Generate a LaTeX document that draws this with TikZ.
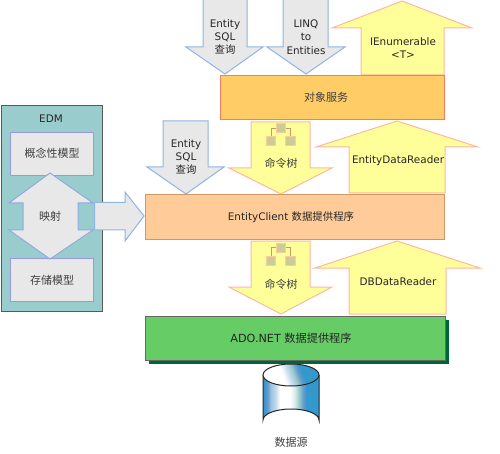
\documentclass[tikz,border=0pt]{standalone}
\usepackage{fontspec}
\setmainfont{DejaVu Sans}
\newfontfamily\cjk{Noto Sans CJK SC}
\definecolor{cylA}{HTML}{3399CC}
\definecolor{cylB}{HTML}{4A9FD0}
\definecolor{cylC}{HTML}{9CC4E4}
\definecolor{cylD}{HTML}{C8DCEE}
\definecolor{cylE}{HTML}{D8E8E8}
\definecolor{cylF}{HTML}{99CCCC}
\definecolor{cylG}{HTML}{6699CC}
\pgfdeclarehorizontalshading{cylbody}{100bp}{
 color(0bp)=(cylA); color(26bp)=(cylA); color(29bp)=(cylG); color(32bp)=(cylC); color(36.6bp)=(cylD); color(40.2bp)=(white); color(49bp)=(white);
 color(53.6bp)=(cylE); color(57bp)=(cylF); color(61bp)=(cylG); color(64bp)=(cylA); color(100bp)=(cylA)}
\pgfdeclarehorizontalshading{cyltop}{100bp}{
 color(0bp)=(white); color(42bp)=(white); color(48bp)=(cylD); color(53bp)=(cylF); color(58bp)=(cylG); color(62bp)=(cylA); color(100bp)=(cylA)}
\definecolor{yel}{HTML}{FFFF99}
\definecolor{yelb}{HTML}{FFB8A0}
\definecolor{gry}{HTML}{E8E8E8}
\definecolor{gryb}{HTML}{8FB4E6}
\definecolor{edmb}{HTML}{9999DD}
\definecolor{tanf}{HTML}{CCCC99}
\definecolor{tanl}{HTML}{CC9966}
\definecolor{teal1}{HTML}{99CCCC}
\definecolor{orng}{HTML}{FFCC66}
\definecolor{orngb}{HTML}{F08060}
\definecolor{peach}{HTML}{FFCC99}
\definecolor{peachb}{HTML}{CC9966}
\definecolor{grn}{HTML}{66CC66}
\definecolor{dgrn}{HTML}{006633}
\tikzset{
 x=1pt,y=-1pt,
 yarrow/.style={fill=yel,draw=yelb,line width=1pt,line join=miter},
 garrow/.style={fill=gry,draw=gryb,line width=1pt,line join=miter},
 gbox/.style={fill=gry,draw=edmb,line width=1pt},
 lab/.style={inner sep=0pt,font=\fontsize{10.4}{13.3}\selectfont,align=center,text=black!85},
 clab/.style={inner sep=0pt,font=\cjk\fontsize{11}{13.3}\selectfont,align=center,text=black!75},
 layer/.style={line width=1pt},
 treeicon/.pic={
  \draw[draw=tanl,line width=1pt] (-9.5,13) -- (-9.5,4.5) -- (9.5,4.5) -- (9.5,13);
  \draw[fill=tanf,draw=peach,line width=1pt] (-4.5,0) rectangle (4.5,9);
  \draw[fill=tanf,draw=peach,line width=1pt] (-14.5,13) rectangle (-5,22);
  \draw[fill=tanf,draw=peach,line width=1pt] (5,13) rectangle (14.5,22);
 }
}
\begin{document}
\begin{tikzpicture}
\useasboundingbox (0,0) rectangle (500,454);
\fill[white] (0,0) rectangle (500,454);
% EDM
\draw[fill=teal1,draw=black!65,line width=1pt] (1,106) rectangle (102,311);
\node[lab] (edm) at (51,119) {EDM};
\draw[gbox] (10,133) rectangle (93,176);
\node[clab] (gn) at (52,153.5) {概念性模型};
\draw[gbox] (10,258) rectangle (93,301);
\node[clab] (cc) at (52,280) {存储模型};
\draw[garrow,draw=gryb!60!edmb] (50,173) -- (93,203) -- (78,203) -- (78,230) -- (93,230) -- (50,259) -- (9,230) -- (23,230) -- (23,203) -- (9,203) -- cycle;
\node[clab] (ys) at (50,216) {映射};
\draw[garrow,draw=gryb] (94.5,202.5) -- (125,202.5) -- (125,192) -- (144,216) -- (125,241) -- (125,230) -- (94.5,230) -- cycle;
% down arrows
\draw[garrow] (203,-2) -- (203,47) -- (186,47) -- (225,74) -- (263,47) -- (247,47) -- (247,-2);
\node[lab] (q1) at (225,37) {Entity\\SQL\\{\cjk 查询}};
\draw[garrow] (283,-2) -- (283,47) -- (267,47) -- (306,74) -- (345,47) -- (328,47) -- (328,-2);
\node[lab] (q2) at (306,37) {LINQ\\to\\Entities};
\draw[garrow] (163,121) -- (163,167) -- (147,167) -- (186,194) -- (224,167) -- (208,167) -- (208,121) -- cycle;
\node[lab] (q3) at (186,157) {Entity\\SQL\\{\cjk 查询}};
% yellow arrows
\draw[yarrow] (361,75) -- (361,28) -- (332,28) -- (402,1) -- (472,28) -- (444,28) -- (444,75) -- cycle;
\node[lab] (ie) at (403,48) {IEnumerable\\<T>};
\draw[yarrow] (251,122) -- (251,168) -- (229,168) -- (281,194) -- (332,168) -- (310,168) -- (310,122) -- cycle;
\pic at (280.5,124) {treeicon};
\node[clab] (t1) at (281,163) {命令树};
\draw[yarrow] (349,193) -- (349,147) -- (316,147) -- (397,121) -- (478,147) -- (445,147) -- (445,193) -- cycle;
\node[lab] (edr) at (398,161) {EntityDataReader};
\draw[yarrow] (251,241) -- (251,287) -- (229,287) -- (281,314) -- (332,287) -- (310,287) -- (310,241) -- cycle;
\pic at (280.5,243) {treeicon};
\node[clab] (t2) at (281,284) {命令树};
\draw[yarrow] (349,314) -- (349,268) -- (315,268) -- (397,241) -- (480,268) -- (446,268) -- (446,314) -- cycle;
\node[lab] (dr) at (398,282) {DBDataReader};
% cylinder
\shade[shading=cylbody] (263,375) -- (263,420) arc[x radius=28,y radius=11,start angle=180,end angle=360] -- (319,375) -- cycle;
\draw[black!85,line width=1pt] (263,375) -- (263,420) arc[x radius=28,y radius=11,start angle=180,end angle=360] -- (319,375);
\shade[shading=cyltop,shading angle=20] (263,375) arc[x radius=28,y radius=11,start angle=180,end angle=-180];
\draw[black!85,line width=1pt] (263,375) arc[x radius=28,y radius=11,start angle=180,end angle=-180];
% layers
\draw[layer,fill=orng,draw=orngb] (220,76) rectangle (444.5,120);
\node[clab] (dx) at (326,97.5) {对象服务};
\draw[layer,fill=peach,draw=peachb] (145,195) rectangle (444.5,239);
\node[lab] (ec) at (291,217) {EntityClient {\cjk 数据提供程序}};
\fill[dgrn] (149,320) rectangle (449,364);
\draw[layer,fill=grn,draw=black!60] (145,316) rectangle (445,360);
\node[lab,font=\fontsize{11.2}{13}\selectfont] (ado) at (291,338) {ADO.NET {\cjk 数据提供程序}};
\node[clab] (ds) at (291,442) {数据源};
\end{tikzpicture}
\end{document}
